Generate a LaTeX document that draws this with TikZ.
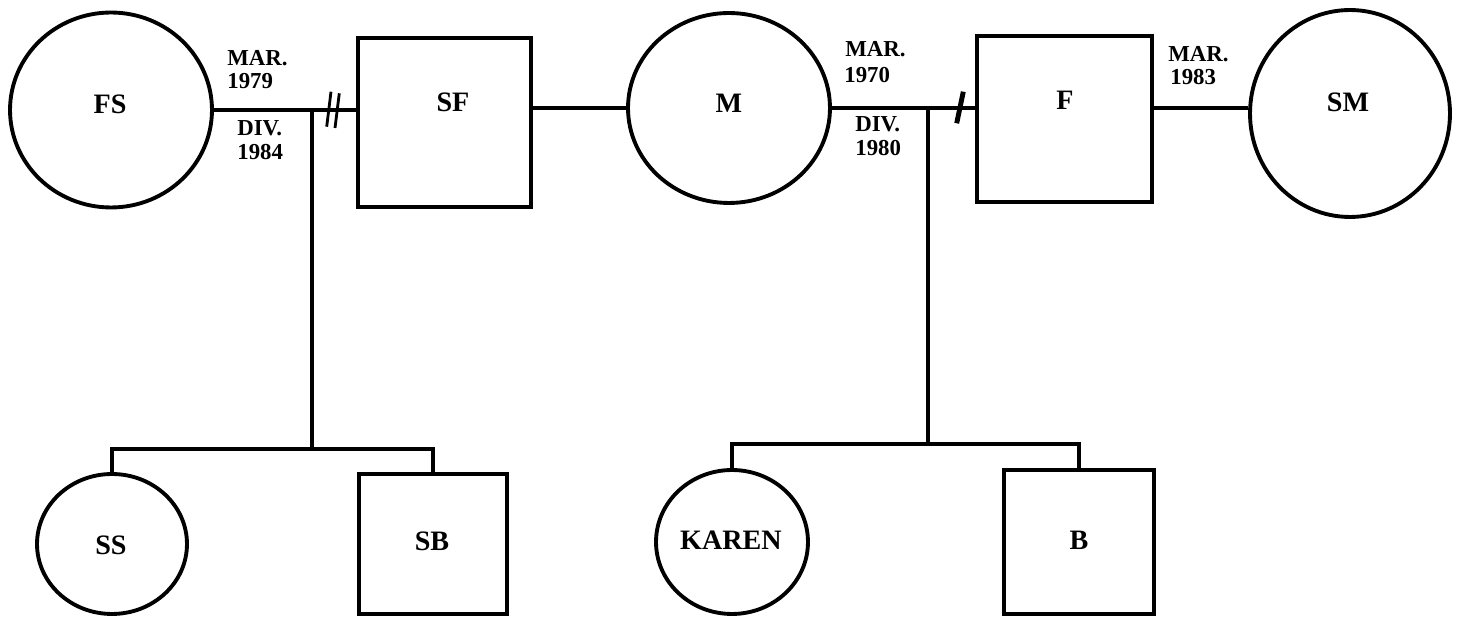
\documentclass[tikz,border=0pt]{standalone}
\usepackage{fontspec}
\setmainfont{Liberation Serif}
\usetikzlibrary{shapes.geometric}
\tikzset{
  femshape/.style={draw, ellipse, line width=2.2pt, inner sep=0pt},
  malshape/.style={draw, rectangle, line width=2pt, inner sep=0pt},
  relline/.style={line width=1.8pt},
  divmark/.style={line width=1.6pt},
  perslbl/.style={inner sep=0pt, font=\fontsize{16}{18}\selectfont\bfseries},
  datelbl/.style={inner sep=0pt, anchor=base west, font=\fontsize{13}{15}\selectfont\bfseries}
}
\begin{document}
\begin{tikzpicture}[x=0.02cm, y=-0.02cm]
\useasboundingbox (0,0) rectangle (1458,617);
% parents' generation
\node[femshape, minimum width=4.04cm, minimum height=3.9cm] (FS) at (111,110) {};
\node[malshape, minimum width=3.46cm, minimum height=3.38cm] (SF) at (444.5,122.5) {};
\node[femshape, minimum width=4.04cm, minimum height=3.8cm] (M) at (729,108) {};
\node[malshape, minimum width=3.5cm, minimum height=3.32cm] (F) at (1064.5,119) {};
\node[femshape, minimum width=4.0cm, minimum height=4.14cm] (SM) at (1350,113.5) {};
% children
\node[femshape, minimum width=3.0cm, minimum height=2.8cm] (SS) at (112,544) {};
\node[malshape, minimum width=2.96cm, minimum height=2.8cm] (SB) at (433,544) {};
\node[femshape, minimum width=3.04cm, minimum height=2.88cm] (KA) at (732,542) {};
\node[malshape, minimum width=3.0cm, minimum height=2.88cm] (B) at (1079,542) {};
% names
\node[perslbl] (tFS) at (110,104.5) {FS};
\node[perslbl] (tSF) at (453,102) {SF};
\node[perslbl] (tM) at (729,103) {M};
\node[perslbl] (tF) at (1065,100) {F};
\node[perslbl] (tSM) at (1348,102) {SM};
\node[perslbl] (tSS) at (111,545) {SS};
\node[perslbl] (tSB) at (432,541) {SB};
\node[perslbl] (tKA) at (731,540) {KAREN};
\node[perslbl] (tB) at (1079,540) {B};
% date labels
\node[datelbl] (d1) at (227,66) {MAR.};
\node[datelbl] (d2) at (227,89) {1979};
\node[datelbl] (d3) at (237,136) {DIV.};
\node[datelbl] (d4) at (237,160) {1984};
\node[datelbl] (d5) at (845,57) {MAR.};
\node[datelbl] (d6) at (844,83) {1970};
\node[datelbl] (d7) at (855,132) {DIV.};
\node[datelbl] (d8) at (855,156) {1980};
\node[datelbl] (d9) at (1168,62) {MAR.};
\node[datelbl] (d10) at (1170,85) {1983};
% marriage lines
\draw[relline] (FS.east) -- (FS.east -| SF.west);
\draw[relline] (SF.east |- M.west) -- (M.west);
\draw[relline] (M.east) -- (M.east -| F.west);
\draw[relline] (F.east |- M.east) -- (SM.west |- M.east);
% divorce marks
\draw[divmark] (326.7,126.7) -- (331,91.7);
\draw[divmark] (335,128) -- (339.3,93.3);
\draw[line width=2.8pt] (956.7,123.3) -- (963.3,91.7);
% descent lines
\coordinate (c1) at (312,110);
\coordinate (s1) at (312,449);
\coordinate (c2) at (928,108);
\coordinate (s2) at (928,444);
\draw[relline] (c1) -- (s1);
\draw[relline] (SS.north) -- (SS.north |- s1) -- (SB.north |- s1) -- (SB.north);
\draw[relline] (c2) -- (s2);
\draw[relline] (KA.north) -- (KA.north |- s2) -- (B.north |- s2) -- (B.north);
\end{tikzpicture}
\end{document}
